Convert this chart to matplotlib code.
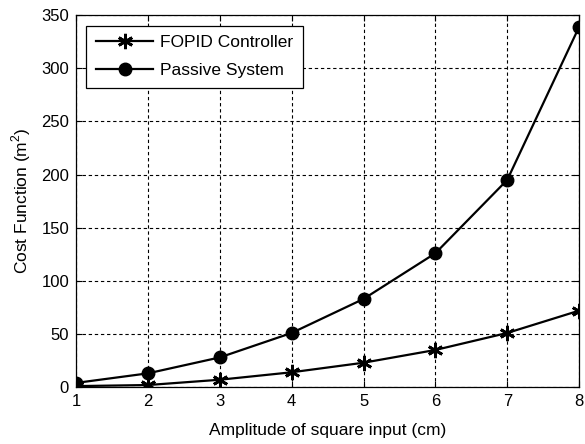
import matplotlib.pyplot as plt

amplitude = [1, 2, 3, 4, 5, 6, 7, 8]
fopid = [1, 2, 7, 14, 23, 35, 51, 72]
passive = [4, 13, 28, 51, 83, 126, 195, 339]

plt.rcParams['font.family'] = ['Liberation Sans', 'DejaVu Sans']
plt.rcParams['mathtext.fontset'] = 'custom'
plt.rcParams['mathtext.rm'] = 'Liberation Sans'

fig = plt.figure(figsize=(5.85, 4.44), dpi=100)
ax = fig.add_axes([0.130, 0.128, 0.860, 0.838])

ax.plot(amplitude, fopid, color='black', lw=1.6, marker=(6, 2, 0), ms=11,
        mew=2.0, label='FOPID Controller')
ax.plot(amplitude, passive, color='black', lw=1.6, marker='o', ms=9,
        label='Passive System')

ax.set_xlim(1, 8)
ax.set_ylim(0, 350)
ax.set_xticks(range(1, 9))
ax.set_yticks(range(0, 351, 50))
ax.grid(True, color='black', linestyle=(0, (3, 2.5)), linewidth=0.8)
ax.tick_params(direction='in', top=True, right=True, length=4,
               labelsize=12, colors='black', pad=5)
for s in ax.spines.values():
    s.set_linewidth(0.9)

ax.set_xlabel('Amplitude of square input (cm)', fontsize=12.5, labelpad=10)
ax.set_ylabel('Cost Function (m$^2$)', fontsize=12.5, labelpad=6)

leg = ax.legend(loc='upper left', fontsize=12.5, handlelength=3.3,
                handletextpad=0.4, fancybox=False, framealpha=1,
                edgecolor='black', borderaxespad=0.6, borderpad=0.55,
                labelspacing=0.75)
leg.get_frame().set_linewidth(0.9)

fig.savefig('out.png', dpi=100)
